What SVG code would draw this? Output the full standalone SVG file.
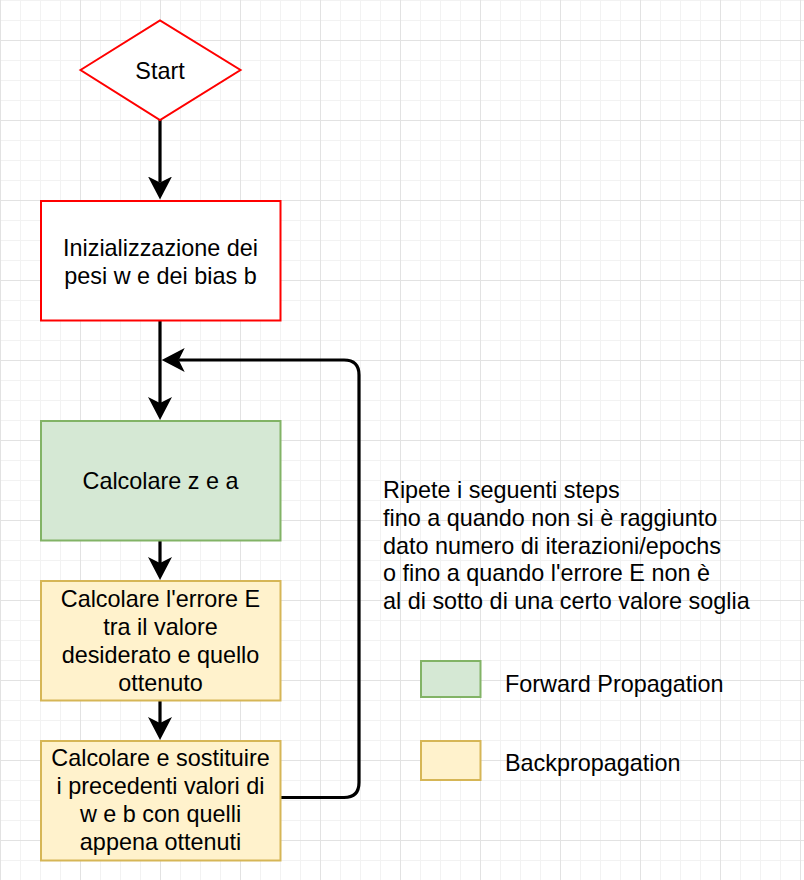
<svg xmlns="http://www.w3.org/2000/svg" width="804" height="880" viewBox="0 0 804 880">
<style>
text{font-family:"Liberation Sans",Arial,Helvetica,sans-serif;font-size:23.4px;fill:#000}
.c{text-anchor:middle}
.red{fill:#fff;stroke:#ff0000;stroke-width:2}
.green{fill:#d5e8d4;stroke:#82b366;stroke-width:2}
.yellow{fill:#fff2cc;stroke:#d6b656;stroke-width:2}
.conn{fill:none;stroke:#000;stroke-width:3.2}
</style>
<defs>
<pattern id="grid" patternUnits="userSpaceOnUse" x="0" y="40" width="80" height="80">
<path d="M20.5,0V80M40.5,0V80M60.5,0V80M0,20.5H80M0,40.5H80M0,60.5H80" fill="none" stroke="#f2f2f2" stroke-width="1"/>
<path d="M0.5,0V80M0,0.5H80" fill="none" stroke="#e2e2e2" stroke-width="1"/>
</pattern>
<marker id="arr" markerUnits="userSpaceOnUse" markerWidth="24" markerHeight="24" viewBox="0 0 24 24" refX="6" refY="12" orient="auto">
<path d="M0,0L23,12L0,24L6,12Z" fill="#000"/>
</marker>
</defs>
<rect width="804" height="880" fill="#fff"/>
<rect width="804" height="880" fill="url(#grid)"/>

<g id="connectors">
<path class="conn" d="M160,120V182.5" marker-end="url(#arr)"/>
<path class="conn" d="M160,321V403" marker-end="url(#arr)"/>
<path class="conn" d="M160,541V563" marker-end="url(#arr)"/>
<path class="conn" d="M160,701V723" marker-end="url(#arr)"/>
<path class="conn" d="M281,797.5H344Q359,797.5 359,782.5V375Q359,360 344,360H178.7" marker-end="url(#arr)"/>
</g>

<g id="start">
<polygon class="red" points="80.5,70 160,20.5 240.5,70 160,120"/>
<text class="c" x="160" y="79">Start</text>
</g>

<g id="init">
<rect class="red" x="41" y="201" width="239.5" height="119.5"/>
<text class="c" x="160.5" y="255.5">Inizializzazione dei</text>
<text class="c" x="160.5" y="283.5">pesi w e dei bias b</text>
</g>

<g id="forward">
<rect class="green" x="41" y="421" width="239.5" height="119.5"/>
<text class="c" x="160.5" y="489">Calcolare z e a</text>
</g>

<g id="error">
<rect class="yellow" x="41" y="581" width="239.5" height="119.5"/>
<text class="c" x="160.5" y="607">Calcolare l'errore E</text>
<text class="c" x="160.5" y="635">tra il valore</text>
<text class="c" x="160.5" y="663">desiderato e quello</text>
<text class="c" x="160.5" y="691">ottenuto</text>
</g>

<g id="update">
<rect class="yellow" x="41" y="741" width="239.5" height="119.5"/>
<text class="c" x="160.5" y="766">Calcolare e sostituire</text>
<text class="c" x="160.5" y="794">i precedenti valori di</text>
<text class="c" x="160.5" y="822">w e b con quelli</text>
<text class="c" x="160.5" y="850">appena ottenuti</text>
</g>

<g id="note">
<text x="383" y="497.7">Ripete i seguenti steps</text>
<text x="383" y="525.6">fino a quando non si è raggiunto</text>
<text x="383" y="553.5">dato numero di iterazioni/epochs</text>
<text x="383" y="581.4">o fino a quando l'errore E non è</text>
<text x="383" y="609.3">al di sotto di una certo valore soglia</text>
</g>

<g id="legend-forward">
<rect class="green" x="421" y="661" width="59.5" height="36"/>
<text x="505" y="691.5">Forward Propagation</text>
</g>

<g id="legend-back">
<rect class="yellow" x="421" y="741" width="59.5" height="39"/>
<text x="505" y="771">Backpropagation</text>
</g>
</svg>
